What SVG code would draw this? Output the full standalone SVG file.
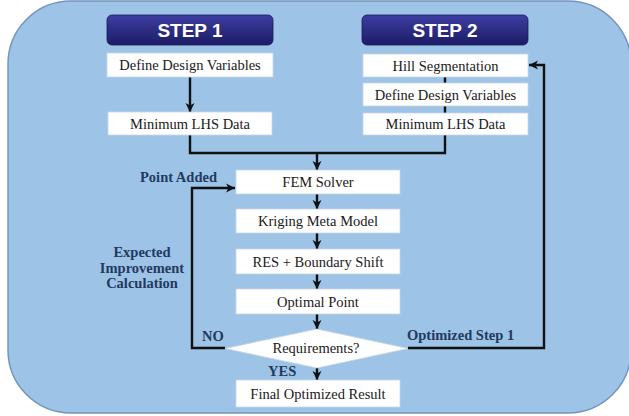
<svg xmlns="http://www.w3.org/2000/svg" width="629" height="416" viewBox="0 0 629 416">
  <defs>
    <linearGradient id="hdr" x1="0" y1="0" x2="0" y2="1">
      <stop offset="0" stop-color="#3d3da3"/>
      <stop offset="1" stop-color="#1c1c66"/>
    </linearGradient>
    <marker id="ah" markerUnits="userSpaceOnUse" markerWidth="11" markerHeight="11" refX="9" refY="5" orient="auto">
      <path d="M0,0.5 L9,5 L0,9.5 L2.5,5 Z" fill="#111"/>
    </marker>
    <style>
      .hdr { fill: url(#hdr); stroke: #1a1a5c; stroke-width: 0.8; }
      .hdrtxt { font-family: "Liberation Sans", Arial, sans-serif; font-weight: bold; font-size: 19px; fill: #ffffff; text-anchor: middle; }
      .box { fill: #ffffff; stroke: #c9d6e6; stroke-width: 0.8; }
      .btxt { font-family: "Liberation Serif", "Times New Roman", serif; font-size: 14.5px; fill: #1a1a1a; text-anchor: middle; }
      .lbl { font-family: "Liberation Serif", "Times New Roman", serif; font-size: 14.5px; font-weight: bold; fill: #233a60; }
      .ln { fill: none; stroke: #111; stroke-width: 2.4; }
      .arr { fill: none; stroke: #111; stroke-width: 2.4; marker-end: url(#ah); }
    </style>
  </defs>

  <!-- panel background -->
  <rect x="8" y="1" width="623" height="412" rx="63" ry="63" fill="#9dc3e6" stroke="#7495bd" stroke-width="1.5"/>

  <!-- connectors -->
  <g id="connectors">
    <line class="arr" x1="190" y1="77" x2="190" y2="112"/>
    <line class="ln" x1="445" y1="77" x2="445" y2="83" stroke-width="2"/>
    <line class="ln" x1="445" y1="106" x2="445" y2="113" stroke-width="2"/>
    <polyline class="ln" points="190,135 190,153 445,153 445,135"/>
    <line class="arr" x1="317" y1="153" x2="317" y2="170"/>
    <line class="arr" x1="317" y1="194" x2="317" y2="209"/>
    <line class="arr" x1="317" y1="233" x2="317" y2="249"/>
    <line class="arr" x1="317" y1="274" x2="317" y2="289"/>
    <line class="arr" x1="317" y1="314" x2="317" y2="329"/>
    <line class="arr" x1="317" y1="368" x2="317" y2="380"/>
    <polyline class="arr" points="225,348 192,348 192,188 235,188"/>
    <polyline class="arr" points="408,348 544,348 544,65 529,65"/>
  </g>

  <!-- step headers -->
  <g id="step1">
    <rect class="hdr" x="107" y="15" width="166" height="30" rx="5"/>
    <text class="hdrtxt" x="190" y="37">STEP 1</text>
  </g>
  <g id="step2">
    <rect class="hdr" x="362" y="15" width="166" height="30" rx="5"/>
    <text class="hdrtxt" x="445" y="37">STEP 2</text>
  </g>

  <!-- step 1 boxes -->
  <g id="s1-define">
    <rect class="box" x="107" y="53" width="166" height="24"/>
    <text class="btxt" x="190" y="70">Define Design Variables</text>
  </g>
  <g id="s1-lhs">
    <rect class="box" x="108" y="112" width="164" height="23"/>
    <text class="btxt" x="190" y="128.5">Minimum  LHS Data</text>
  </g>

  <!-- step 2 boxes -->
  <g id="s2-hill">
    <rect class="box" x="363" y="54" width="165" height="23"/>
    <text class="btxt" x="445.5" y="70.5">Hill Segmentation</text>
  </g>
  <g id="s2-define">
    <rect class="box" x="363" y="83" width="165" height="23"/>
    <text class="btxt" x="445.5" y="99.5">Define Design Variables</text>
  </g>
  <g id="s2-lhs">
    <rect class="box" x="363" y="113" width="165" height="22"/>
    <text class="btxt" x="445.5" y="129">Minimum  LHS Data</text>
  </g>

  <!-- main loop -->
  <g id="fem">
    <rect class="box" x="236" y="170" width="164" height="24"/>
    <text class="btxt" x="318" y="187">FEM Solver</text>
  </g>
  <g id="kriging">
    <rect class="box" x="236" y="209" width="164" height="24"/>
    <text class="btxt" x="318" y="226">Kriging  Meta Model</text>
  </g>
  <g id="res">
    <rect class="box" x="236" y="249" width="164" height="25"/>
    <text class="btxt" x="318" y="266.5">RES + Boundary Shift</text>
  </g>
  <g id="optimal">
    <rect class="box" x="236" y="289" width="164" height="25"/>
    <text class="btxt" x="318" y="306.5">Optimal Point</text>
  </g>
  <g id="requirements">
    <polygon points="225,348.5 317,329 408,348.5 317,368" fill="#ffffff" stroke="#c9d6e6" stroke-width="0.8"/>
    <text class="btxt" x="316" y="353" font-size="13.5">Requirements?</text>
  </g>
  <g id="final">
    <rect class="box" x="236" y="380" width="164" height="27"/>
    <text class="btxt" x="318" y="398.5">Final Optimized Result</text>
  </g>

  <!-- annotations -->
  <g id="labels">
    <text class="lbl" x="140" y="181.5">Point Added</text>
    <text class="lbl" x="142" y="257" text-anchor="middle">Expected</text>
    <text class="lbl" x="142" y="272.5" text-anchor="middle">Improvement</text>
    <text class="lbl" x="142" y="288" text-anchor="middle">Calculation</text>
    <text class="lbl" x="202" y="341">NO</text>
    <text class="lbl" x="268" y="376">YES</text>
    <text class="lbl" x="407" y="340">Optimized Step 1</text>
  </g>
</svg>
